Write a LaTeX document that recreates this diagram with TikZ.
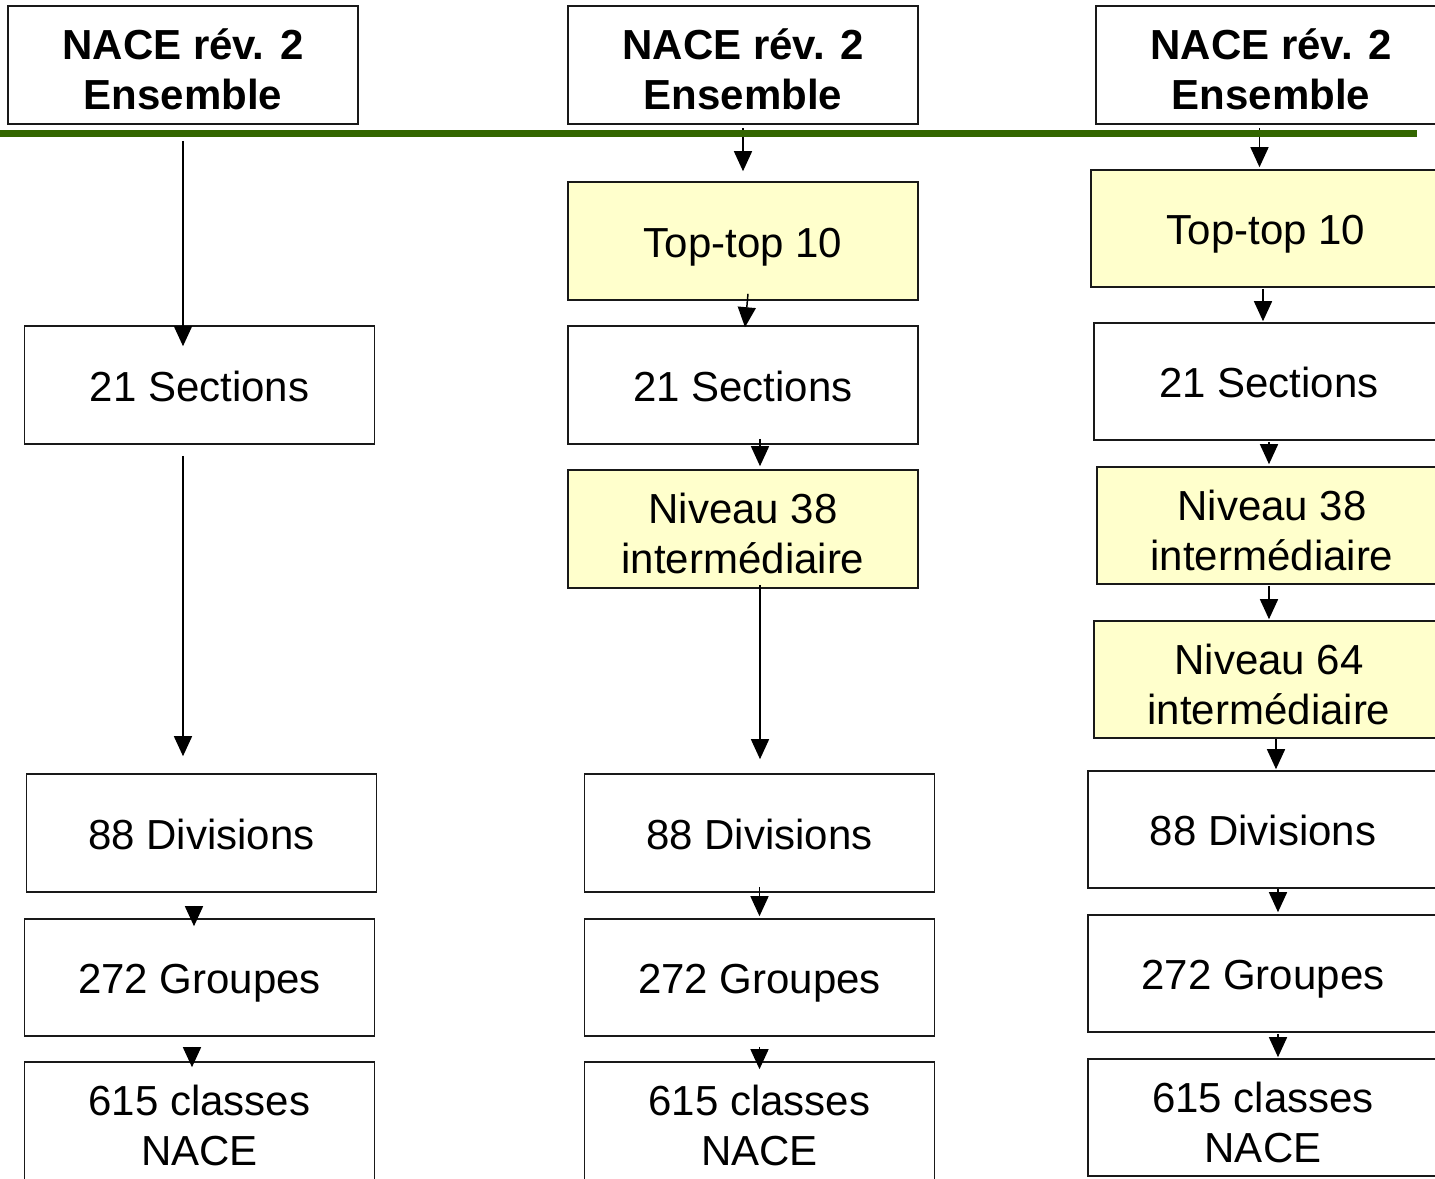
\documentclass[tikz,border=0pt]{standalone}
\usepackage{fontspec}
\setmainfont{Liberation Sans}
\usetikzlibrary{arrows.meta}
\definecolor{barcol}{RGB}{51,102,0}
\definecolor{boxyellow}{RGB}{255,255,204}
\newcommand{\firstln}{\rule{0pt}{40pt}}
\begin{document}
\begin{tikzpicture}[x=1pt,y=-1pt,
  box/.style={draw=black!90, line width=1.6pt, fill=white, minimum width=350pt, minimum height=118pt, inner sep=0pt, align=center, font=\fontsize{42}{50}\selectfont},
  one/.style={text height=32pt, text depth=0pt},
  ybox/.style={box, fill=boxyellow},
  hbox/.style={box, font=\fontsize{42}{50}\selectfont\bfseries},
  arr/.style={line width=1.5pt, -{Triangle[width=18pt,length=20pt]}}]
\useasboundingbox (0,0) rectangle (1435,1178);
\clip (0,0) rectangle (1435,1178);
% column 1
\node[hbox] (h1) at (183,65) {\firstln NACE rév. 2\\Ensemble};
\node[box, one] (s1) at (199.5,385) {21 Sections};
\node[box, one] (d1) at (201.5,833) {88 Divisions};
\node[box, one, minimum height=117pt] (g1) at (199.5,977.5) {272 Groupes};
\node[box] (c1) at (199.5,1121) {\firstln 615 classes\\NACE};
% column 2
\node[hbox] (h2) at (743,65) {\firstln NACE rév. 2\\Ensemble};
\node[ybox, one] (t2) at (743,241) {Top-top 10};
\node[box, one] (s2) at (743,385) {21 Sections};
\node[ybox] (n2) at (743,529) {\firstln Niveau 38\\intermédiaire};
\node[box, one] (d2) at (759.5,833) {88 Divisions};
\node[box, one, minimum height=117pt] (g2) at (759.5,977.5) {272 Groupes};
\node[box] (c2) at (759.5,1121) {\firstln 615 classes\\NACE};
% column 3
\node[hbox] (h3) at (1271,65) {\firstln NACE rév. 2\\Ensemble};
\node[ybox, one, minimum height=117pt] (t3) at (1266,228.5) {Top-top 10};
\node[box, one, minimum height=117pt] (s3) at (1269,381.5) {21 Sections};
\node[ybox, minimum height=117pt] (n3) at (1272,525.5) {\firstln Niveau 38\\intermédiaire};
\node[ybox, minimum height=117pt] (m3) at (1269,679.5) {\firstln Niveau 64\\intermédiaire};
\node[box, one, minimum height=117pt] (d3) at (1263,829.5) {88 Divisions};
\node[box, one, minimum height=117pt] (g3) at (1263,973.5) {272 Groupes};
\node[box, minimum height=117pt] (c3) at (1263,1117.5) {\firstln 615 classes\\NACE};
% arrows column 1
\draw[arr] ([yshift=-16pt]h1.south) -- ([xshift=-16.5pt,yshift=-21pt]s1.north);
\draw[arr] ([xshift=-16.5pt,yshift=-11pt]s1.south) -- ([xshift=-18.5pt,yshift=17pt]d1.north);
\draw[arr] ([xshift=-7.5pt,yshift=-13pt]d1.south) -- ([xshift=-5.5pt,yshift=-8pt]g1.north);
\draw[arr] ([xshift=-7.5pt,yshift=-10pt]g1.south) -- ([xshift=-7.5pt,yshift=-6pt]c1.north);
% arrows column 2
\draw[arr] ([yshift=-3pt]h2.south) -- ([yshift=10pt]t2.north);
\draw[arr] ([xshift=5pt,yshift=7pt]t2.south) -- ([xshift=2pt,yshift=-2pt]s2.north);
\draw[arr] ([xshift=17pt,yshift=6pt]s2.south) -- ([xshift=17pt,yshift=3pt]n2.north);
\draw[arr] ([xshift=17pt,yshift=4pt]n2.south) -- ([xshift=0.5pt,yshift=14pt]d2.north);
\draw[arr] ([yshift=6pt]d2.south) -- ([yshift=2pt]g2.north);
\draw[arr] ([yshift=-10pt]g2.south) -- ([yshift=-8pt]c2.north);
% arrows column 3
\draw[arr] ([xshift=-11.5pt,yshift=-3pt]h3.south) -- ([xshift=-6.5pt,yshift=2pt]t3.north);
\draw[arr] ([xshift=-3pt,yshift=-1pt]t3.south) -- ([xshift=-6pt,yshift=1pt]s3.north);
\draw[arr] ([yshift=-1pt]s3.south) -- ([xshift=-3pt,yshift=2pt]n3.north);
\draw[arr] ([xshift=-3pt,yshift=-1pt]n3.south) -- ([yshift=1pt]m3.north);
\draw[arr] ([xshift=7pt]m3.south) -- ([xshift=13pt,yshift=1pt]d3.north);
\draw[arr] ([xshift=15pt]d3.south) -- ([xshift=15pt,yshift=2pt]g3.north);
\draw[arr] ([xshift=15pt,yshift=-1pt]g3.south) -- ([xshift=15pt,yshift=1pt]c3.north);
% green bar
\fill[barcol] (0,130) rectangle (1417,137);
\end{tikzpicture}
\end{document}
